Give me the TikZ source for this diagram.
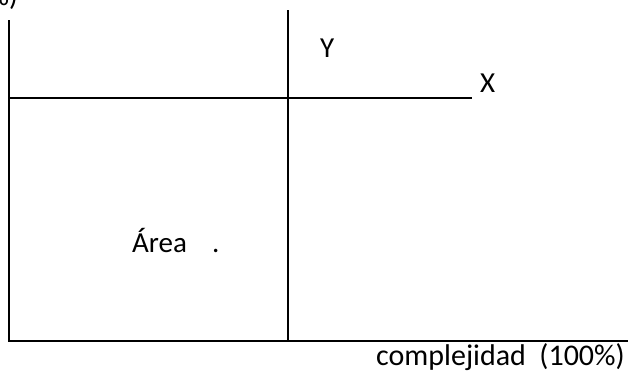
\documentclass[tikz,border=0pt]{standalone}
\usepackage{fontspec}
\setmainfont{Carlito}
\begin{document}
\begin{tikzpicture}[x=1pt,y=-1pt,
  axis/.style={line width=2.4pt},
  lbl/.style={inner sep=0pt, font=\fontsize{29}{34}\selectfont}]
\useasboundingbox (0,0) rectangle (628,376);
\clip (0,0) rectangle (628,376);
\coordinate (lt) at (9,20);
\coordinate (lb) at (9,341);
\coordinate (br) at (628,341);
\coordinate (mt) at (288,10);
\coordinate (mb) at (288,341);
\coordinate (hl) at (9,98);
\coordinate (hr) at (472,98);
\draw[axis] (lt) -- (lb) -- (br);
\draw[axis] (mt) -- (mb);
\draw[axis] (hl) -- (hr);
\node[lbl, anchor=base east] (top) at (18,5) {\%)};
\node[lbl, anchor=base west] (y) at (320,57) {Y};
\node[lbl, anchor=base west] (x) at (480,92) {X};
\node[lbl, anchor=base west] (area) at (132,252) {Área};
\node[lbl, anchor=base west] (dot) at (212,252) {.};
\node[lbl, anchor=base east, font=\fontsize{30}{35}\selectfont] (cx) at (625,365) {complejidad\ \ (100\%)};
\end{tikzpicture}
\end{document}
